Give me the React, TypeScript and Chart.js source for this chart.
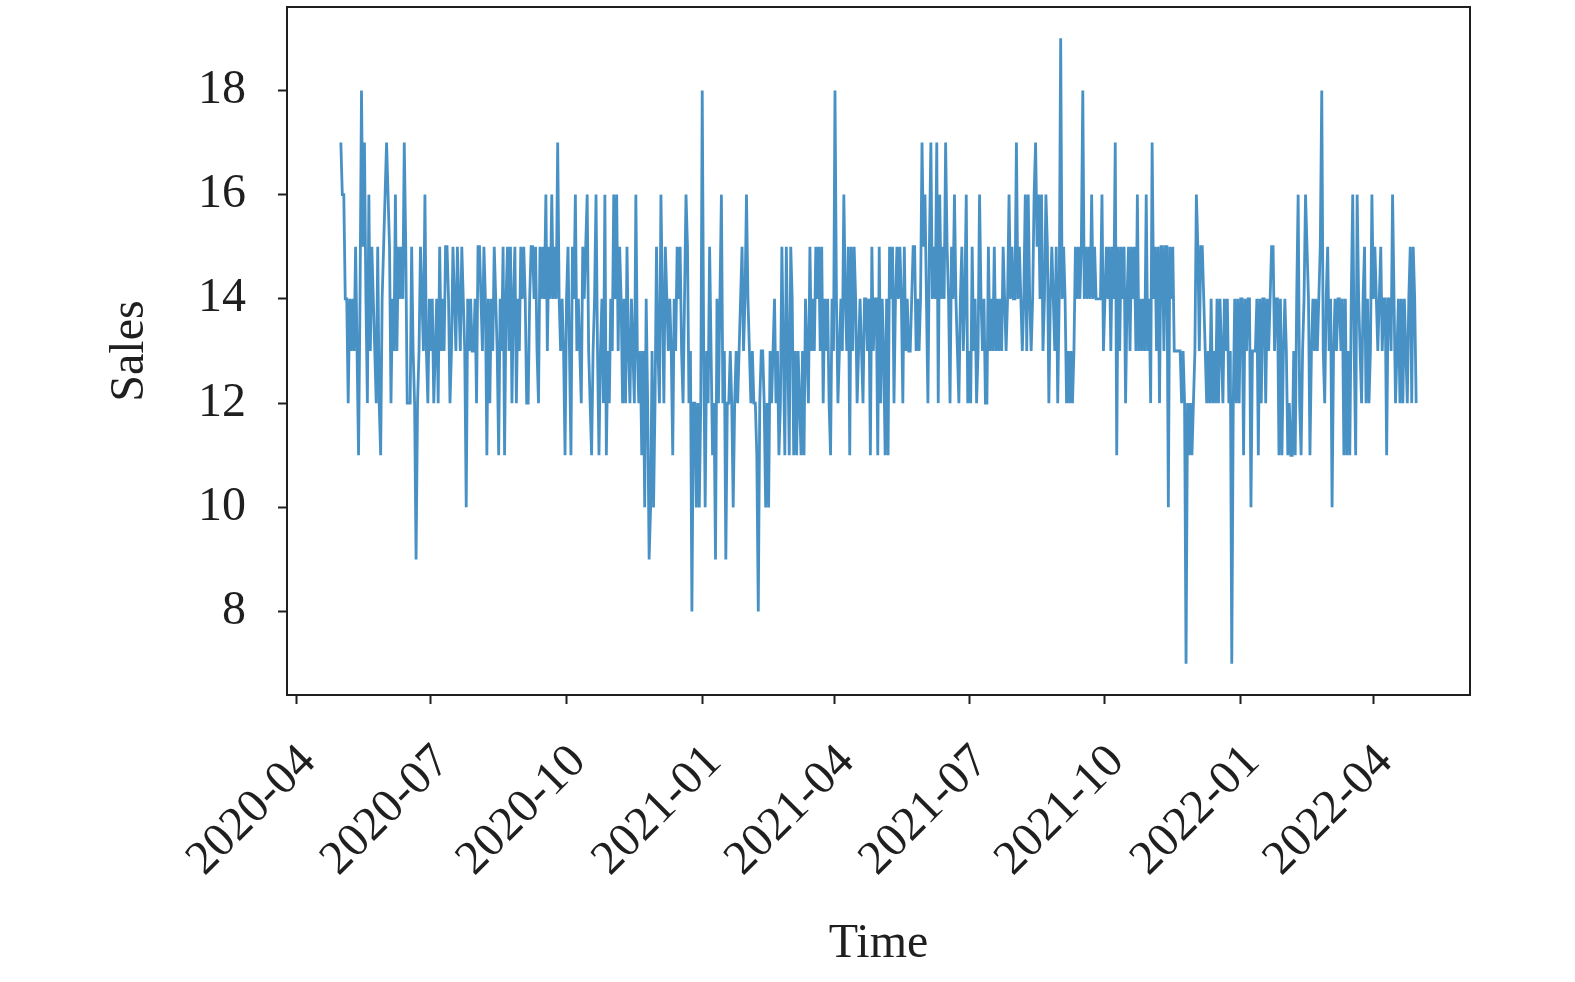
import { useEffect, useRef } from 'react'
import { Chart, registerables } from 'chart.js'

Chart.register(...registerables)

// Daily sales, one value per day starting 2020-05-01.
const SALES_2020 = [
  17, 16, 16, 14, 14, 12, 14, 13, 14, 13, 15, 13, 11, 14, 18, 15, 17, 14, 12, 16,
  13, 15, 14, 13, 12, 15, 12, 11, 14, 15, 16, 17, 16, 15, 12, 14, 13, 16, 13, 15,
  14, 15, 14, 17, 15, 12, 12, 12, 15, 13, 12, 9, 12, 13, 15, 14, 13,
  16, 13, 12, 14, 13, 14, 12, 13, 14, 12, 15, 13, 14, 13, 15, 15, 14, 12, 13, 15,
  14, 13, 15, 14, 13, 15, 14, 13, 10, 14, 13, 14, 13, 13, 14, 12, 15, 15, 14, 13,
  15, 14, 11, 14, 12, 14, 13, 15, 14, 13, 11, 14, 13, 15, 11, 14, 15, 13, 15, 12, 14,
  15, 12, 14, 13, 15, 14, 15, 14, 12, 12, 14, 15, 15, 14, 15, 13, 12, 15, 14, 15,
  14, 16, 13, 15, 14, 16, 14, 15, 14, 17, 14, 13, 14, 13, 11, 14, 15, 13, 11, 15,
  14, 16, 13, 14, 13, 12, 15, 14, 15, 16, 13, 12, 11, 13, 14, 16, 13, 11, 13, 14, 12,
  16, 11, 13, 12, 14, 13, 16, 14, 16, 13, 15, 14, 12, 14, 12, 15, 13, 12, 14, 13,
  12, 16, 13, 12, 13, 11, 13, 10, 14, 12, 9, 10, 13, 10, 12, 15, 13, 12, 16, 14,
  12, 15, 14, 13, 14, 13, 11, 14, 13, 15, 14, 15, 13, 12, 14, 16, 15, 12, 13, 8, 12,
  12, 10, 12, 10, 12,
]

const SALES_2021 = [
  18, 13, 10, 13, 12, 15, 13, 11, 12, 9, 14, 12, 14, 16, 12, 13, 9, 12, 12, 13,
  12, 10, 12, 13, 12, 13, 14, 15, 13, 14, 16, 14, 13, 12, 13, 12, 12, 11, 8, 12,
  13, 13, 12, 10, 12, 10, 13, 12, 13, 14, 12, 13, 11, 12, 15, 13,
  11, 15, 13, 11, 15, 14, 11, 13, 11, 13, 12, 11, 13, 11, 14, 13, 12, 15, 13, 14,
  13, 15, 14, 15, 13, 15, 12, 14, 13, 14, 12, 11, 14, 13, 18, 14, 12, 13, 14, 13,
  16, 14, 13, 15, 11, 15, 13, 15, 14, 12, 13, 14, 13, 12, 14, 14, 13, 14, 11, 15, 13,
  14, 14, 11, 15, 12, 14, 13, 11, 14, 11, 15, 14, 15, 12, 14, 15, 14, 15, 14, 12,
  15, 13, 14, 13, 13, 14, 15, 15, 13, 14, 13, 14, 17, 15, 16, 14, 12, 15, 17, 14,
  15, 14, 17, 12, 16, 14, 15, 14, 17, 15, 14, 12, 15, 14, 16, 14, 13, 12, 14, 15, 13, 14,
  16, 12, 13, 12, 15, 13, 14, 12, 13, 16, 14, 13, 14, 12, 12, 15, 13, 14, 13, 15,
  13, 14, 13, 14, 13, 15, 14, 13, 14, 16, 14, 15, 14, 14, 17, 14, 15, 14, 13, 14,
  16, 13, 16, 14, 13, 14, 16, 17, 15, 16, 14, 16, 13, 14, 16, 15, 12, 14, 15, 14, 13,
  15, 12, 14, 19, 14, 15, 14, 12, 13, 12, 13, 12, 13, 15, 14, 15, 14, 15, 18, 14,
  15, 14, 15, 14, 16, 14, 15, 14, 14, 14, 14, 16, 13, 14, 15, 14, 15, 13, 15, 14,
  17, 11, 15, 13, 15, 14, 15, 12, 14, 15, 13, 15, 14, 15, 13, 16, 13, 14, 13, 14, 13,
  16, 13, 14, 12, 17, 14, 15, 13, 15, 12, 15, 15, 13, 15, 15, 10, 15, 14, 15, 13,
  13, 13, 13, 13, 12, 13, 12, 7, 12, 11, 12, 11, 12, 13, 16, 15, 13, 15, 15, 14,
  13, 12, 13, 12, 14, 12, 13, 12, 14, 12, 14, 13, 12, 14, 13, 14, 12, 13, 7, 12, 14,
  12, 14, 12,
]

const SALES_2022 = [
  14, 14, 11, 14, 13, 14, 14, 10, 13, 13, 13, 14, 11, 14, 12, 14, 14, 12, 14, 13,
  14, 15, 15, 13, 14, 14, 11, 14, 11, 13, 14, 13, 11, 12, 11, 11, 13, 11, 14, 16,
  12, 11, 13, 14, 16, 15, 14, 11, 13, 14, 13, 14, 13, 14, 15, 18, 13, 12, 14,
  15, 13, 14, 10, 13, 14, 13, 14, 14, 13, 14, 11, 14, 11, 13, 11, 14, 16, 13, 11,
  16, 14, 13, 12, 14, 15, 12, 14, 12, 13, 16, 14, 15, 14, 13, 14, 15, 13, 14, 14,
  11, 14, 14, 13, 16, 14, 12, 13, 14, 12, 14, 12, 14, 13, 12, 14, 15, 12, 15, 14, 12,
]

const SALES = [...SALES_2020, ...SALES_2021, ...SALES_2022]

// x positions are days counted from 2020-05-01
const TICK_DAYS = [-30, 61, 153, 245, 335, 426, 518, 610, 700]
const TICK_LABELS = ['2020-04', '2020-07', '2020-10', '2021-01', '2021-04', '2021-07', '2021-10', '2022-01', '2022-04']
const Y_TICKS = [8, 10, 12, 14, 16, 18]

const FONT = '"Liberation Serif", "Times New Roman", serif'
const INK = '#1f1f1f'

const frame = {
  id: 'frame',
  afterDraw(chart: Chart) {
    const { ctx, chartArea: a } = chart
    ctx.save()
    ctx.strokeStyle = INK
    ctx.lineWidth = 2
    ctx.strokeRect(a.left, a.top, a.right - a.left, a.bottom - a.top)
    ctx.restore()
  },
}

export default function App() {
  const canvasRef = useRef<HTMLCanvasElement>(null)
  const chartRef = useRef<Chart | null>(null)

  useEffect(() => {
    if (!canvasRef.current) return
    chartRef.current?.destroy()

    chartRef.current = new Chart(canvasRef.current, {
      type: 'line',
      data: {
        datasets: [{
          label: 'Sales',
          data: SALES.map((v, i) => ({ x: i, y: v })),
          borderColor: 'rgba(56,136,192,0.92)',
          borderWidth: 2.8,
          pointRadius: 0,
          tension: 0,
          fill: false,
        }],
      },
      options: {
        animation: false,
        responsive: true,
        maintainAspectRatio: false,
        layout: { padding: { top: 7, right: 105, left: 0, bottom: 0 } },
        plugins: { legend: { display: false }, tooltip: { enabled: false } },
        scales: {
          x: {
            type: 'linear',
            min: -36.5,
            max: 765.5,
            afterBuildTicks: s => { s.ticks = TICK_DAYS.map(v => ({ value: v })) },
            afterFit: s => {
              s.height = 287
              s.paddingLeft = 0
              s.paddingRight = 0
            },
            ticks: {
              color: INK,
              font: { family: FONT, size: 48 },
              minRotation: 45,
              maxRotation: 45,
              padding: 30,
              labelOffset: 12,
              callback: (_v, i) => TICK_LABELS[i],
            },
            grid: { drawOnChartArea: false, drawTicks: true, tickLength: 9, tickColor: INK, tickWidth: 2 },
            border: { display: false },
            title: {
              display: true,
              text: 'Time',
              color: INK,
              font: { family: FONT, size: 48, lineHeight: 1.2 },
              padding: { bottom: 9, top: 0 },
            },
          },
          y: {
            min: 6.4,
            max: 19.6,
            afterBuildTicks: s => { s.ticks = Y_TICKS.map(v => ({ value: v })) },
            afterFit: s => {
              s.width = 287
              s.paddingTop = 0
              s.paddingBottom = 0
            },
            ticks: {
              color: INK,
              font: { family: FONT, size: 48 },
              padding: 32,
            },
            grid: { drawOnChartArea: false, drawTicks: true, tickLength: 9, tickColor: INK, tickWidth: 2 },
            border: { display: false },
            title: {
              display: true,
              text: 'Sales',
              color: INK,
              font: { family: FONT, size: 48, lineHeight: 1.2 },
              padding: { top: 102, bottom: 0 },
            },
          },
        },
      },
      plugins: [frame],
    })

    return () => chartRef.current?.destroy()
  }, [])

  return (
    <div style={{ position: 'absolute', left: 0, top: 0, width: 1575, height: 982, background: '#fff' }}>
      <canvas ref={canvasRef} />
    </div>
  )
}
